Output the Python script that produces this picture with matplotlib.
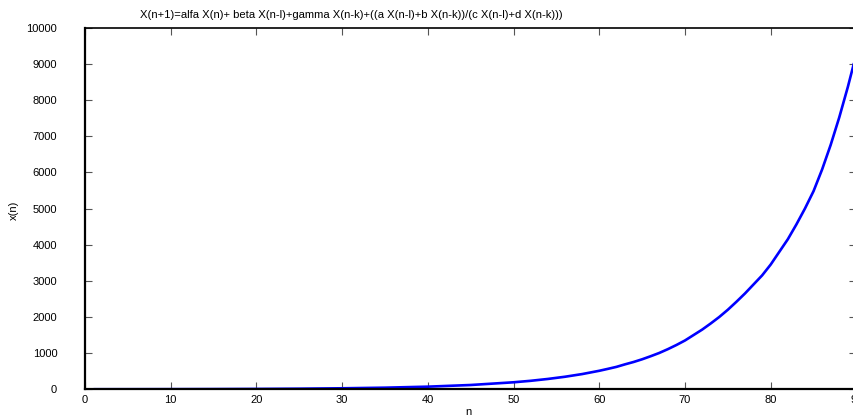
import matplotlib
matplotlib.use("Agg")
import matplotlib.pyplot as plt

n_values = [1, 5, 10, 15, 20, 25, 30, 35, 40, 45, 50, 52, 54, 56, 58, 60, 61, 62, 63, 64,
            65, 66, 67, 68, 69, 70, 71, 72, 73, 74, 75, 76, 77, 78, 79, 80, 81, 82, 83,
            84, 85, 86, 87, 88, 89, 90]
x_values = [1.7, 2.5, 4.0, 6.5, 10.5, 17, 28, 45, 73, 119, 194, 235, 286, 347, 421, 512,
            565, 620, 690, 755, 830, 915, 1005, 1110, 1225, 1350, 1500, 1650, 1820, 2000,
            2200, 2420, 2650, 2900, 3150, 3450, 3800, 4150, 4560, 5000, 5480, 6080, 6760,
            7520, 8360, 9280]

x_ticks = [0, 10, 20, 30, 40, 50, 60, 70, 80, 90]
y_ticks = [0, 1000, 2000, 3000, 4000, 5000, 6000, 7000, 8000, 9000, 10000]
title = "X(n+1)=alfa X(n)+ beta X(n-l)+gamma X(n-k)+((a X(n-l)+b X(n-k))/(c X(n-l)+d X(n-k)))"

plt.rcParams['font.family'] = ['Liberation Sans', 'DejaVu Sans']
fig = plt.figure(figsize=(8.54, 4.18), dpi=100)
W, H = 854, 418
ax = fig.add_axes([85 / W, 1 - 389.3 / H, 771.4 / W, 361.6 / H])

ax.plot(n_values, x_values, color=(0, 0, 1), linewidth=1.9, solid_capstyle='butt',
        solid_joinstyle='round')
ax.set_xlim(0, 90)
ax.set_ylim(0, 10000)
ax.set_xticks(x_ticks)
ax.set_yticks(y_ticks)
ax.tick_params(direction='in', length=5, width=0.8, colors='#555555', labelcolor='black',
               labelsize=8, top=True, right=True)
ax.tick_params(axis='x', pad=4)
ax.tick_params(axis='y', pad=20)
for s in ['left', 'bottom']:
    ax.spines[s].set_linewidth(1.6)
    ax.spines[s].set_color('black')
for s in ['top', 'right']:
    ax.spines[s].set_linewidth(1.2)
    ax.spines[s].set_color('black')

fig.text(351 / W, 1 - 15 / H, title, ha='center', va='center', fontsize=8.1)
fig.text(14 / W, 1 - 210 / H, "x(n)", rotation=90, ha='center', va='center', fontsize=8)
fig.text(468 / W, 1 - 412 / H, "n", ha='center', va='center', fontsize=8)

fig.savefig("out.png", dpi=100)
